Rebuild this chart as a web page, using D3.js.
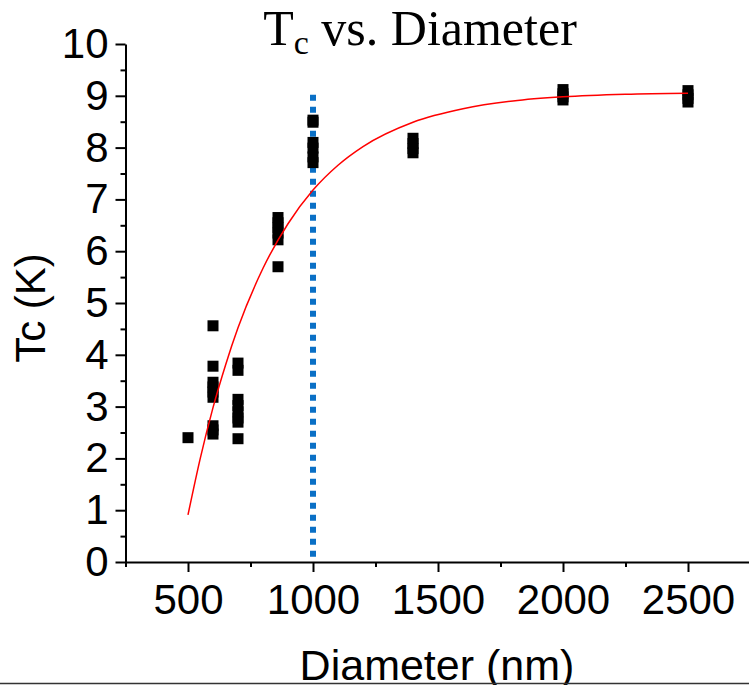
<!DOCTYPE html>
<html><head><meta charset="utf-8">
<script src="https://cdn.jsdelivr.net/npm/d3@7"></script>
<style>body{margin:0;background:#fff;}svg{display:block;}</style>
</head><body>
<script>
// ---- data ----
const diameters = [500,
  600,600,600,600,600,600,600,600,600,
  700,700,700,700,700,700,700,700,
  860,860,860,860,860,860,
  1000,1000,1000,1000,1000,1000,
  1400,1400,1400,1400,
  2000,2000,2000,2000,
  2500,2500,2500,2500];
const tcValues = [2.40,
  4.56,3.78,3.47,3.38,3.28,3.18,2.63,2.55,2.47,
  3.84,3.70,3.14,3.02,2.90,2.78,2.70,2.38,
  6.65,6.55,6.45,6.35,6.22,5.70,
  8.53,8.49,8.10,7.99,7.82,7.71,
  8.18,8.08,7.98,7.90,
  9.12,9.04,8.98,8.92,
  9.10,9.02,8.95,8.88];
const fitX = [500,550,600,650,700,800,900,1000,1100,1200,1400,1600,1800,2000,2250,2500];
const fitY = [0.91,2.02,2.98,3.80,4.52,5.67,6.53,7.18,7.66,8.02,8.49,8.75,8.90,8.98,9.03,9.05];
const xTicks = [500,1000,1500,2000,2500];
const xMinor = [250,750,1250,1750,2250,2750];
const yTicks = [0,1,2,3,4,5,6,7,8,9,10];
const yMinor = [0.5,1.5,2.5,3.5,4.5,5.5,6.5,7.5,8.5,9.5];
const markerLine = {x: 1000, y0: 0.1, y1: 9.1};
const titleMain = "T", titleSub = "c", titleRest = " vs. Diameter";
const xTitle = "Diameter (nm)", yTitle = "Tc (K)";

// ---- layout ----
const W = 749, H = 685;
const svg = d3.select("body").append("svg").attr("width", W).attr("height", H);
svg.append("rect").attr("width", W).attr("height", H).attr("fill", "#fff");

const x = d3.scaleLinear().domain([250, 2750]).range([125.5, 750.5]);
const y = d3.scaleLinear().domain([0, 10]).range([562, 44]);
const sans = "'Liberation Sans', Arial, sans-serif";
const fmt = d3.format("d");

// axes
const gx = svg.append("g").attr("transform", `translate(0,${y(0)})`);
gx.call(d3.axisBottom(x).tickValues(xMinor).tickSize(5).tickFormat("").tickSizeOuter(0));
const gxMaj = svg.append("g").attr("transform", `translate(0,${y(0)})`);
gxMaj.call(d3.axisBottom(x).tickValues(xTicks).tickFormat(fmt).tickSize(10).tickPadding(12).tickSizeOuter(0));
gxMaj.select(".domain").remove();
const gy = svg.append("g").attr("transform", `translate(${x(250)},0)`);
gy.call(d3.axisLeft(y).tickValues(yMinor).tickSize(5).tickFormat("").tickSizeOuter(0));
const gyMaj = svg.append("g").attr("transform", `translate(${x(250)},0)`);
gyMaj.call(d3.axisLeft(y).tickValues(yTicks).tickFormat(fmt).tickSize(10).tickPadding(7).tickSizeOuter(0));
gyMaj.select(".domain").remove();
svg.selectAll(".domain, .tick line").attr("stroke", "#000").attr("stroke-width", 2);
svg.selectAll(".tick text").attr("font-family", sans).attr("font-size", 42).attr("fill", "#000");

// vertical dotted line
svg.append("line")
  .attr("x1", x(markerLine.x)).attr("x2", x(markerLine.x))
  .attr("y1", y(markerLine.y0)).attr("y2", y(markerLine.y1))
  .attr("stroke", "#0a70c6").attr("stroke-width", 6).attr("stroke-dasharray", "6,6");

// points
const S = 11;
svg.append("g").selectAll("rect").data(diameters.map((d,i)=>[d,tcValues[i]])).join("rect")
  .attr("x", d => x(d[0]) - S/2).attr("y", d => y(d[1]) - S/2)
  .attr("width", S).attr("height", S).attr("fill", "#000");

// fit curve
svg.append("path").datum(fitX.map((d,i)=>[d,fitY[i]]))
  .attr("d", d3.line().x(d=>x(d[0])).y(d=>y(d[1])).curve(d3.curveMonotoneX))
  .attr("fill", "none").attr("stroke", "#ff0000").attr("stroke-width", 1.5);

// title
const t = svg.append("text").attr("x", 420).attr("y", 45).attr("text-anchor", "middle")
  .attr("font-family", "'Liberation Serif', 'Times New Roman', serif").attr("font-size", 50).attr("fill", "#000");
t.append("tspan").text(titleMain);
t.append("tspan").attr("font-size", 34).attr("dy", 9).text(titleSub);
t.append("tspan").attr("dy", -9).text(titleRest);

// axis titles
svg.append("text").attr("x", 437).attr("y", 680).attr("text-anchor", "middle")
  .attr("font-family", sans).attr("font-size", 43).attr("fill", "#000").text(xTitle);
svg.append("text").attr("transform", "translate(45,308) rotate(-90)").attr("text-anchor", "middle")
  .attr("font-family", sans).attr("font-size", 42).attr("fill", "#000").text(yTitle);

// bottom border
svg.append("line").attr("x1", 0).attr("x2", W).attr("y1", 683.5).attr("y2", 683.5)
  .attr("stroke", "#333").attr("stroke-width", 1.5);
</script>
</body></html>
